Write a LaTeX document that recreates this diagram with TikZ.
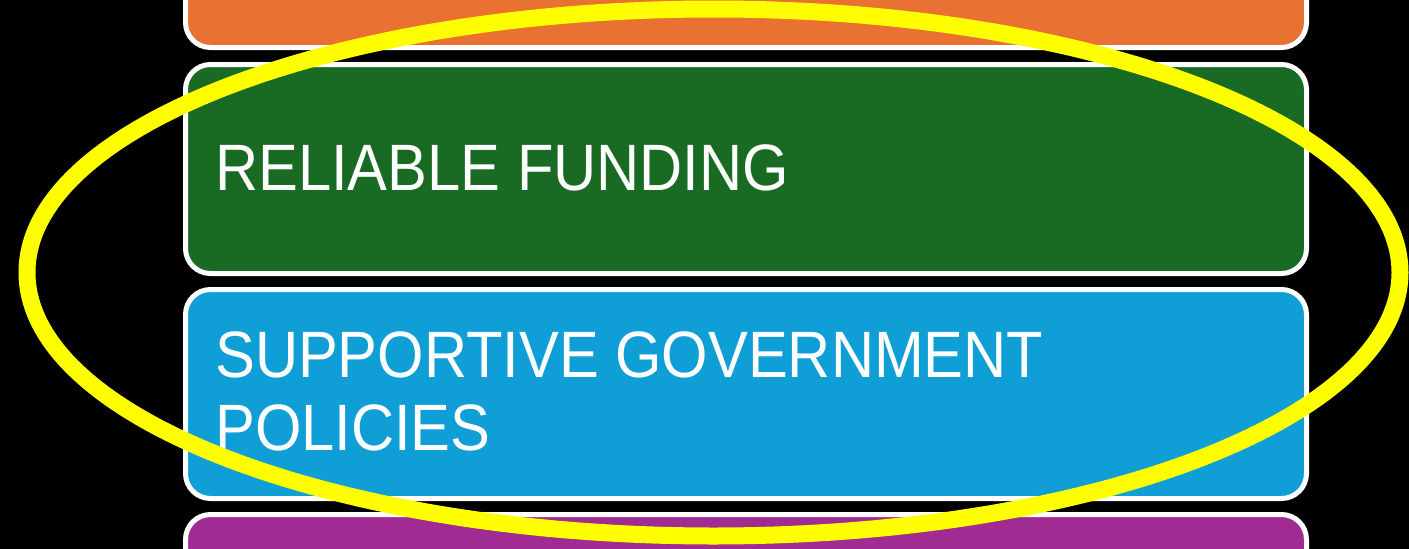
\documentclass[tikz,border=0pt]{standalone}
\usepackage{fontspec}
\setmainfont[FakeStretch=0.91]{Liberation Sans}
\definecolor{boxorange}{HTML}{E97132}
\definecolor{boxgreen}{HTML}{196B24}
\definecolor{boxblue}{HTML}{0F9ED5}
\definecolor{boxpurple}{HTML}{A02B93}
\definecolor{ringyellow}{HTML}{FFFF00}
\tikzset{
  bandbox/.style={draw=white, line width=5pt, rounded corners=25pt, rectangle,
    minimum width=1121pt, minimum height=209pt, inner sep=0pt, outer sep=0pt},
  bandtext/.style={text=white, anchor=base west, inner sep=0pt, align=left,
    font=\fontsize{65.6}{73}\selectfont},
  ring/.style={draw=ringyellow, line width=17pt}
}
\begin{document}
\begin{tikzpicture}[x=1pt,y=-1pt]
\useasboundingbox (0,0) rectangle (1409,549);
\fill[black] (0,0) rectangle (1409,549);
\begin{scope}
\clip (0,0) rectangle (1409,549);
\node[bandbox, fill=boxorange] (orangebox) at (746,-57) {};
\node[bandbox, fill=boxgreen] (greenbox) at (746,169) {};
\node[bandbox, fill=boxblue] (bluebox) at (746,394) {};
\node[bandbox, fill=boxpurple] (purplebox) at (746,619) {};
\node[bandtext] (greentext) at (215,190) {RELIABLE FUNDING};
\node[bandtext] (bluetext) at (215,450) {SUPPORTIVE GOVERNMENT\\POLICIES};
\draw[ring] (713.5,272.5) ellipse [x radius=686.5, y radius=263.5];
\end{scope}
\end{tikzpicture}
\end{document}
